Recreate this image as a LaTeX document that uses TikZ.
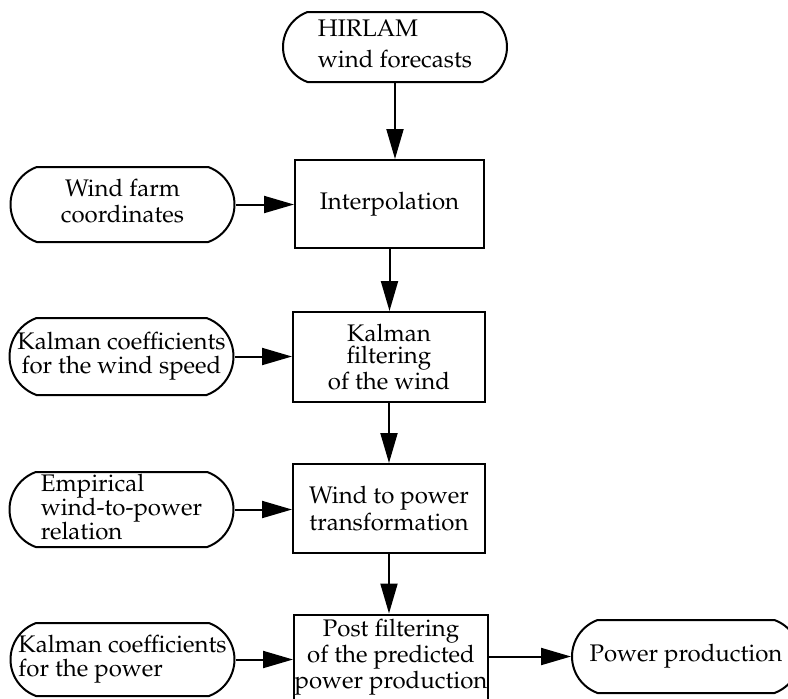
\documentclass[tikz,border=0pt]{standalone}
\usepackage[T1]{fontenc}
\usepackage{mathpazo}
\usetikzlibrary{arrows.meta,shapes.misc,positioning}

\tikzset{
  procbox/.style={draw, rectangle, line width=1pt, inner sep=0pt, align=center,
    minimum width=96pt, minimum height=45pt},
  termbox/.style={draw, rounded rectangle, rounded rectangle arc length=140,
    line width=1pt, inner sep=0pt, minimum width=112pt, minimum height=37.5pt},
  flow/.style={-{Triangle[length=15pt,width=8.5pt]}, line width=1pt}
}
% text of a terminal, allowed to run into the rounded ends
\newcommand\termtext[2][c]{\makebox[30pt]{\begin{tabular}{@{}#1@{}}#2\end{tabular}}}

\begin{document}
\begin{tikzpicture}[x=0.5pt,y=-0.5pt,every node/.style={font=\fontsize{12}{11}\selectfont}]
  \useasboundingbox (0,0) rectangle (788,698);
% Forecast input
  \node[termbox, minimum width=112pt, minimum height=35pt] (hirlam) at (395,47) {\termtext[l]{HIRLAM\\[3.5pt]wind forecasts}};
% Interpolation step
  \node[procbox, minimum width=94.5pt, minimum height=44pt] (interp) at (389.5,204) {Interpolation};
  \node[termbox] (farm) at (122.5,204.5) {\termtext{Wind farm\\[1pt]coordinates}};
% Kalman filtering step
  \node[procbox] (kalman) at (389,357) {Kalman\\filtering\\of the wind};
  \node[termbox, minimum height=38.5pt] (kcwind) at (121.5,356.5) {\termtext{Kalman coefficients\\for the wind speed}};
% Wind to power step
  \node[procbox, minimum height=44.5pt] (wtop) at (389,508.5) {Wind to power\\transformation};
  \node[termbox, font=\fontsize{12}{10}\selectfont] (empir) at (121.5,509.5) {\termtext[l]{Empirical\\wind-to-power\\relation}};
% Post filtering step
  \node[procbox, minimum width=97pt, minimum height=43pt] (post) at (391,657.5) {Post filtering\\of the predicted\\power production};
  \node[termbox, minimum height=36.5pt] (kcpow) at (122.5,659.5) {\termtext[l]{Kalman coefficients\\for the power}};
% Output
  \node[termbox, minimum width=114pt, minimum height=36.5pt] (power) at (686,656.5) {\termtext{Power production}};

% Main chain
  \draw[flow] (hirlam.south) -- (hirlam.south |- interp.north);
  \draw[flow] (interp) -- (interp |- kalman.north);
  \draw[flow] (kalman) -- (kalman |- wtop.north);
  \draw[flow] (wtop) -- (wtop |- post.north);
% Side inputs
  \draw[flow] (farm.east) -- (farm.east -| interp.west);
  \draw[flow] (kcwind.east) -- (kcwind.east -| kalman.west);
  \draw[flow] (empir.east) -- (empir.east -| wtop.west);
  \draw[flow] (kcpow.east) -- (kcpow.east -| post.west);
  \draw[flow] (post.east |- power.west) -- (power.west);
\end{tikzpicture}
\end{document}
